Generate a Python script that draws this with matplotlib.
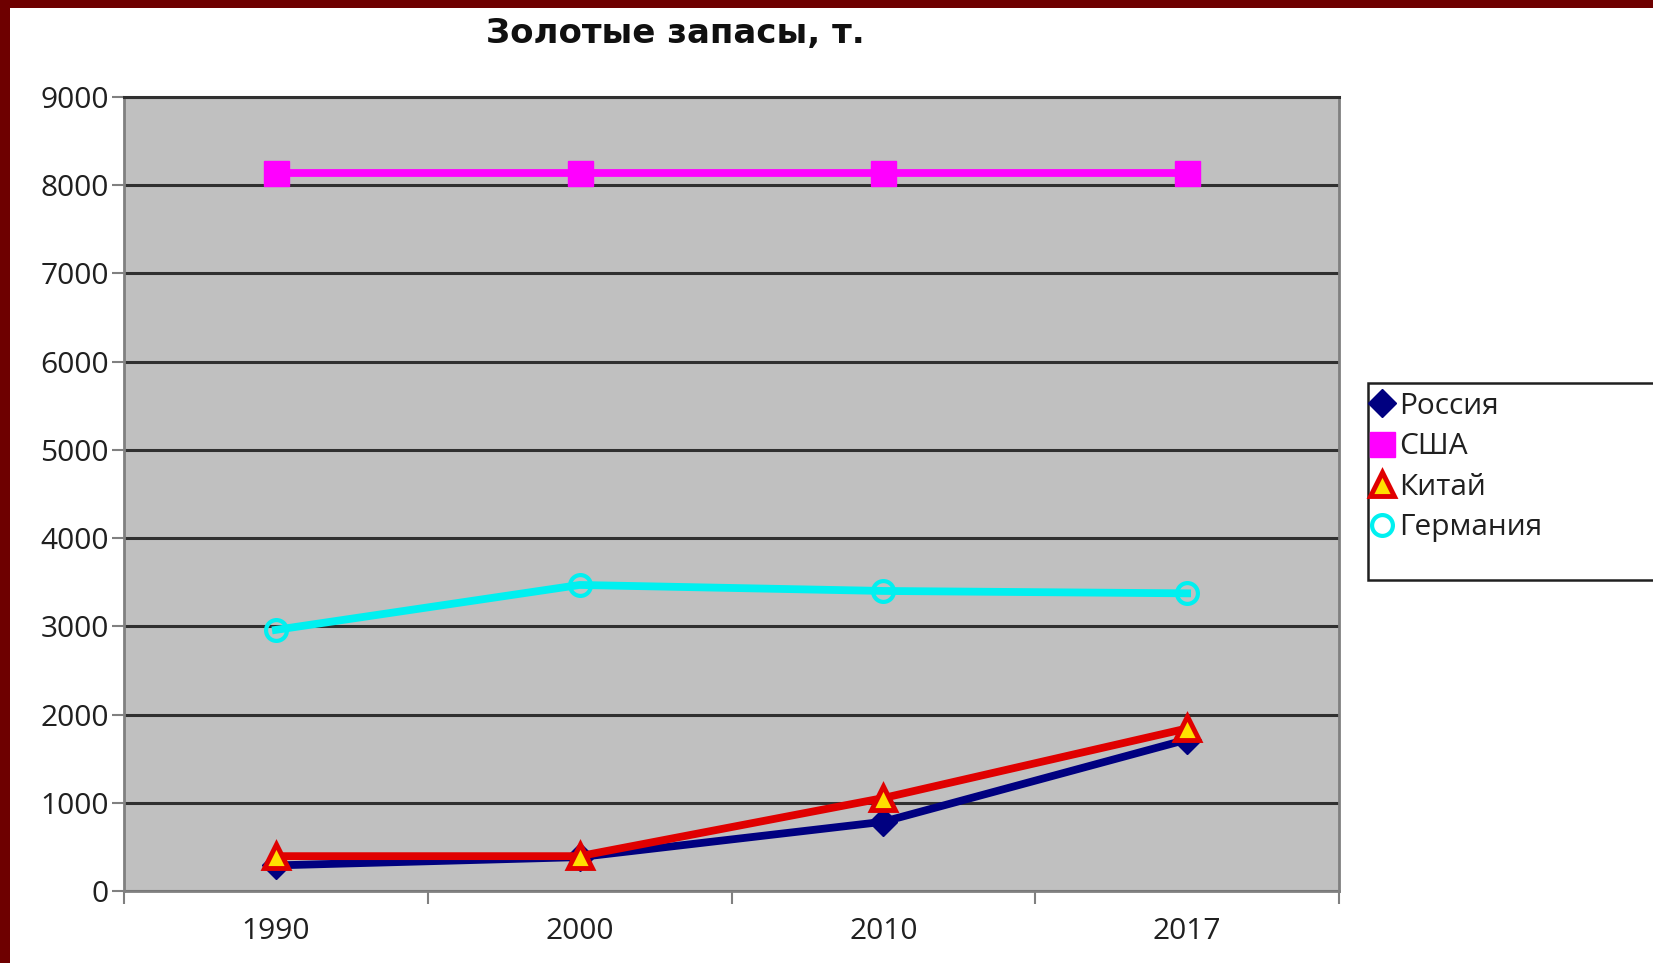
import matplotlib
matplotlib.use("Agg")
import matplotlib.pyplot as plt
from matplotlib.patches import Rectangle

categories = ["1990", "2000", "2010", "2017"]
russia = [290, 384, 785, 1717]
usa = [8134, 8134, 8134, 8134]
china = [395, 395, 1054, 1843]
germany = [2960, 3469, 3401, 3374]
yticks = [0, 1000, 2000, 3000, 4000, 5000, 6000, 7000, 8000, 9000]

W, H = 1653, 963
fig = plt.figure(figsize=(W / 100, H / 100), dpi=100, facecolor="white")

def fx(px):
    return px / W

def fy(py):
    return 1 - py / H

L, R, T, B = 124, 1339, 97, 891
ax = fig.add_axes([fx(L), fy(B), fx(R) - fx(L), fy(T) - fy(B)])
ax.set_facecolor("#C0C0C0")

x = list(range(len(categories)))
lw = 5.6
ax.plot(x, russia, color="#000080", lw=lw, marker="D", ms=14,
        mfc="#000080", mec="#000080", label="Россия", zorder=3)
ax.plot(x, usa, color="#FF00FF", lw=lw, marker="s", ms=18,
        mfc="#FF00FF", mec="#FF00FF", label="США", zorder=3)
ax.plot(x, china, color="#E00000", lw=lw, marker="^", ms=17,
        mfc="#FFE000", mec="#E00000", mew=3.5, label="Китай", zorder=4)
ax.plot(x, germany, color="#00F0F0", lw=lw, marker="o", ms=15,
        mfc="none", mec="#00F0F0", mew=3, label="Германия", zorder=3)

ax.set_ylim(0, 9000)
ax.set_xlim(-0.5, len(categories) - 0.5)
ax.set_yticks(yticks)
ax.set_yticklabels([str(v) for v in yticks])
ax.yaxis.grid(True, color="#303030", lw=2.2)
ax.set_axisbelow(True)

ax.set_xticks([i - 0.5 for i in range(len(categories) + 1)])
ax.set_xticklabels([])
ax.set_xticks(x, minor=True)
ax.set_xticklabels(categories, minor=True)
ax.tick_params(axis="x", which="major", length=9, width=1.5, color="#808080", direction="out")
ax.tick_params(axis="x", which="minor", length=0, pad=19)
ax.tick_params(axis="y", length=9, width=1.5, color="#808080", pad=2)

for lab in ax.get_xticklabels(minor=True) + ax.get_yticklabels():
    lab.set_fontfamily("Open Sans")
    lab.set_fontsize(21.5)
    lab.set_color("#202020")

for s in ["left", "right", "bottom"]:
    ax.spines[s].set_color("#808080")
    ax.spines[s].set_linewidth(2)
ax.spines["top"].set_color("#303030")
ax.spines["top"].set_linewidth(2.2)

fig.text(fx(675), fy(34), "Золотые запасы, т.", ha="center", va="center",
         fontsize=24.5, fontweight="bold", family="DejaVu Sans", color="#101010")

# legend
fig.patches.append(Rectangle((fx(1368), fy(580)), 1.0, fy(383) - fy(580),
                             transform=fig.transFigure, fill=True, facecolor="white",
                             edgecolor="#202020", lw=1.8, zorder=5))
leg = fig.legend(loc="upper left", bbox_to_anchor=(fx(1354), fy(377)),
                 frameon=False, prop={"family": "Open Sans", "size": 21.5},
                 handlelength=0.9, handletextpad=0.1, labelspacing=0.38,
                 borderpad=0.0, markerscale=1.0)
leg.set_zorder(6)
for h in leg.legend_handles:
    h.set_linestyle("None")
for t in leg.get_texts():
    t.set_color("#202020")

# dark red frame
fig.patches.append(Rectangle((0, fy(8)), 1, fy(0) - fy(8), transform=fig.transFigure,
                             facecolor="#6E0000", edgecolor="none", zorder=7))
fig.patches.append(Rectangle((0, 0), fx(10), 1, transform=fig.transFigure,
                             facecolor="#6E0000", edgecolor="none", zorder=7))

fig.savefig("out.png", dpi=100, facecolor="white")
